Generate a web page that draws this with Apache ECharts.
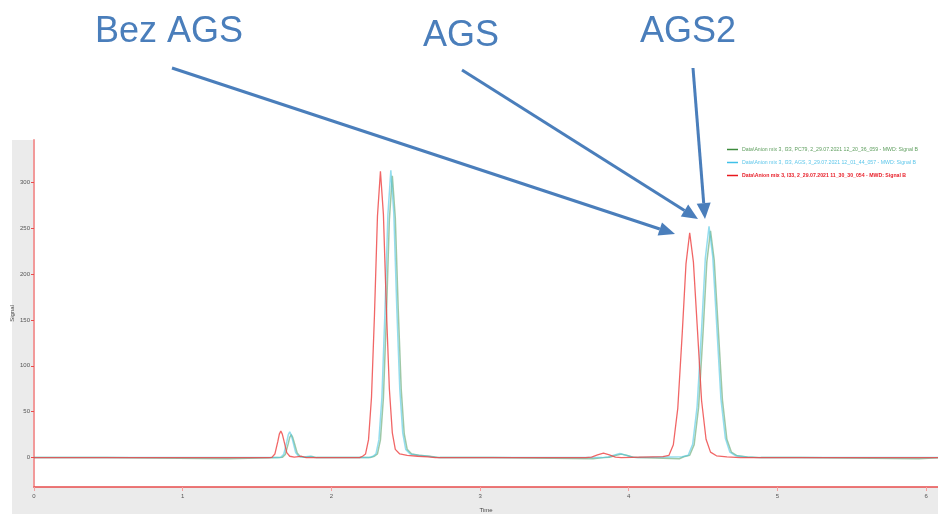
<!DOCTYPE html>
<html>
<head>
<meta charset="utf-8">
<script src="https://cdn.jsdelivr.net/npm/echarts@6/dist/echarts.min.js"></script>
<style>html,body{margin:0;padding:0;background:#fff;}#chart{width:938px;height:514px;}</style>
</head>
<body>
<div id="chart"></div>
<script>
// ---- data (time in min, signal) ----
const seriesNames = [
  'Data\\Anion mix 3, I33, PC79, 2_29.07.2021 12_20_36_059 - MWD: Signal B',
  'Data\\Anion mix 3, I33, AGS, 3_29.07.2021 12_01_44_057 - MWD: Signal B',
  'Data\\Anion mix 3, I33, 2_29.07.2021 11_30_30_054 - MWD: Signal B'
];
const xTicks = [0, 1, 2, 3, 4, 5, 6];
const yTicks = [0, 50, 100, 150, 200, 250, 300];

const greenTime = [0, 0.49, 0.50, 1.30, 1.31,
  1.65, 1.67, 1.69, 1.71, 1.72, 1.73, 1.74, 1.75, 1.77, 1.79, 1.82, 1.85, 1.87, 1.90,
  2.26, 2.29, 2.31, 2.33, 2.35, 2.37, 2.39, 2.41, 2.43, 2.45, 2.47, 2.49, 2.51, 2.54, 2.59, 2.66, 2.73,
  3.09, 3.10, 3.76,
  3.83, 3.87, 3.91, 3.95, 3.99, 4.03, 4.07,
  4.08, 4.34,
  4.37, 4.41, 4.44, 4.47, 4.50, 4.525, 4.55, 4.575, 4.60, 4.63, 4.66, 4.69, 4.73, 4.80, 4.89,
  5.16, 5.17, 5.95, 5.96, 6.08];
const greenSignal = [0, 0, -1.2, -1.2, 0,
  0, 0.3, 3.4, 15.2, 22, 25, 22, 16.5, 5, 1.3, 0.5, 1, 1.3, 0,
  0, 1.5, 4, 19.3, 65, 154, 259, 307, 261, 160, 74, 26, 9, 4, 2.5, 1.5, 0,
  0, -1.2, -1.2,
  0, 0.5, 2.3, 3.8, 2.3, 0.5, 0,
  -1.2, -1.2,
  1, 2.5, 14, 55, 137, 213, 247, 215, 146, 63, 20, 6, 2, 0.8, 0,
  0, -1.2, -1.2, 0, 0];

const cyanTime = [0,
  1.64, 1.66, 1.68, 1.70, 1.71, 1.72, 1.73, 1.74, 1.76, 1.78, 1.81, 1.84, 1.86, 1.89,
  2.25, 2.28, 2.30, 2.32, 2.34, 2.36, 2.38, 2.40, 2.42, 2.44, 2.46, 2.48, 2.50, 2.53, 2.58, 2.65, 2.72,
  3.82, 3.86, 3.90, 3.94, 3.98, 4.02, 4.06,
  4.36, 4.40, 4.43, 4.46, 4.49, 4.515, 4.54, 4.565, 4.59, 4.62, 4.65, 4.68, 4.72, 4.79, 4.88,
  6.08];
const cyanSignal = [0,
  0, 0.3, 3.8, 17, 24.7, 28, 24.7, 18.5, 5.5, 1.5, 0.5, 1.2, 1.5, 0,
  0, 1.5, 4, 19.6, 66, 157, 264, 313, 266, 163, 75, 27, 9, 4, 2.5, 1.5, 0,
  0, 0.6, 2.7, 4.4, 2.7, 0.6, 0,
  1, 2.5, 14.4, 56, 140, 217, 252, 219, 149, 64, 21, 6, 2, 0.8, 0,
  0];

const redTime = [0,
  1.58, 1.60, 1.62, 1.64, 1.65, 1.66, 1.67, 1.68, 1.70, 1.72, 1.75, 1.78, 1.80, 1.83,
  2.19, 2.21, 2.23, 2.25, 2.27, 2.29, 2.31, 2.33, 2.35, 2.37, 2.39, 2.41, 2.43, 2.46, 2.51, 2.58, 2.65, 2.70,
  3.71, 3.75, 3.79, 3.83, 3.87, 3.91, 3.95,
  4.23, 4.27, 4.30, 4.33, 4.36, 4.385, 4.41, 4.435, 4.46, 4.49, 4.52, 4.55, 4.59, 4.66, 4.75,
  6.08];
const redSignal = [0,
  0, 0.3, 3.9, 17.6, 25.6, 29, 25.6, 19, 5.5, 1.5, 0.5, 1.2, 1.5, 0,
  0, 1.5, 4, 19.6, 66, 156, 263, 312, 265, 162, 75, 27, 9, 4, 2.5, 1.5, 0.8, 0,
  0, 0.6, 2.9, 4.8, 2.9, 0.6, 0,
  1, 2.4, 14, 54, 136, 211, 245, 213, 145, 62, 20, 6, 2, 0.8, 0,
  0];

const seriesColors = ['#4f9a5c', '#4cc6e2', '#ee4444'];
const seriesOpacity = [0.55, 0.6, 0.82];
const legendColors = ['#3d8b3d', '#3fc0e8', '#e8181e'];
const legendTextColors = ['#5e9e5e', '#5cc6ea', '#e8202a'];

function zip(t, v) { return t.map((x, i) => [x, v[i]]); }
const dataSets = [zip(greenTime, greenSignal), zip(cyanTime, cyanSignal), zip(redTime, redSignal)];

const chart = echarts.init(document.getElementById('chart'), null, { renderer: 'canvas' });
const blue = '#4a7ebb';
function arrow(x1, y1, bx, by, p1, p2, tip) {
  return [
    { type: 'line', shape: { x1: x1, y1: y1, x2: bx, y2: by }, style: { stroke: blue, lineWidth: 3 }, z: 100 },
    { type: 'polygon', shape: { points: [p1, p2, tip] }, style: { fill: blue }, z: 100 }
  ];
}
const fontFam = 'Liberation Sans, Arial, sans-serif';

chart.setOption({
  animation: false,
  backgroundColor: '#ffffff',
  grid: { left: 34, right: 0, top: 140, bottom: 27, show: true, backgroundColor: '#ffffff', borderWidth: 0,
    containLabel: false, outerBoundsMode: 'none' },
  legend: {
    orient: 'vertical', left: 722, top: 142,
    itemWidth: 11, itemHeight: 1.5, itemGap: 8,
    textStyle: { fontSize: 5.2, fontFamily: fontFam, padding: [0, 0, 0, -1] },
    data: seriesNames.map((n, i) => ({
      name: n,
      icon: 'rect',
      itemStyle: { color: legendColors[i] },
      textStyle: { color: legendTextColors[i], fontWeight: i === 2 ? 'bold' : 'normal', fontSize: 5.2 }
    }))
  },
  xAxis: {
    type: 'value', min: 0, max: 6.08, interval: 1,
    name: 'Time', nameLocation: 'middle', nameGap: 20,
    nameTextStyle: { fontSize: 6, color: '#444', fontFamily: fontFam },
    axisLine: { show: true, onZero: false, lineStyle: { color: '#e84c4c', width: 1.5 } },
    axisTick: { show: true, length: 4, lineStyle: { color: '#f2a0a0', width: 1 } },
    axisLabel: { fontSize: 6, color: '#555', margin: 6, fontFamily: fontFam,
      customValues: xTicks },
    splitLine: { show: false }
  },
  yAxis: {
    type: 'value', min: -32, max: 346,
    name: 'Signal', nameLocation: 'middle', nameGap: 19, nameRotate: 90, nameMoveOverlap: false,
    nameTextStyle: { fontSize: 6, color: '#444', fontFamily: fontFam },
    axisLine: { show: true, onZero: false, lineStyle: { color: '#f29a9a', width: 2 } },
    axisTick: { show: true, length: 3, lineStyle: { color: '#e84c4c', width: 1 }, customValues: yTicks },
    axisLabel: { fontSize: 6, color: '#555', margin: 4, fontFamily: fontFam, customValues: yTicks },
    splitLine: { show: false }
  },
  series: dataSets.map((d, i) => ({
    name: seriesNames[i],
    type: 'line',
    data: d,
    symbol: 'none',
    color: legendColors[i],
    lineStyle: { color: seriesColors[i], width: i === 2 ? 1.3 : 1.5, opacity: seriesOpacity[i] },
    z: 2 + i
  })),
  graphic: [
    { type: 'rect', shape: { x: 12, y: 140, width: 926, height: 374 }, style: { fill: '#ebebeb' }, z: -100, silent: true },
    { type: 'text', x: 95, y: 32, style: { text: 'Bez AGS', fill: blue, font: '36px ' + fontFam, verticalAlign: 'middle', align: 'left' }, z: 100 },
    { type: 'text', x: 423, y: 36, style: { text: 'AGS', fill: blue, font: '36px ' + fontFam, verticalAlign: 'middle', align: 'left' }, z: 100 },
    { type: 'text', x: 640, y: 32, style: { text: 'AGS2', fill: blue, font: '36px ' + fontFam, verticalAlign: 'middle', align: 'left' }, z: 100 }
  ].concat(
    arrow(172, 68, 659.8, 229.0, [657.6, 235.6], [662.0, 222.4], [675, 234]),
    arrow(462, 70, 684.5, 210.5, [680.8, 216.4], [688.2, 204.6], [698, 219]),
    arrow(693, 68, 703.7, 203.1, [696.7, 203.7], [710.7, 202.6], [705, 219])
  )
});
</script>
</body>
</html>
